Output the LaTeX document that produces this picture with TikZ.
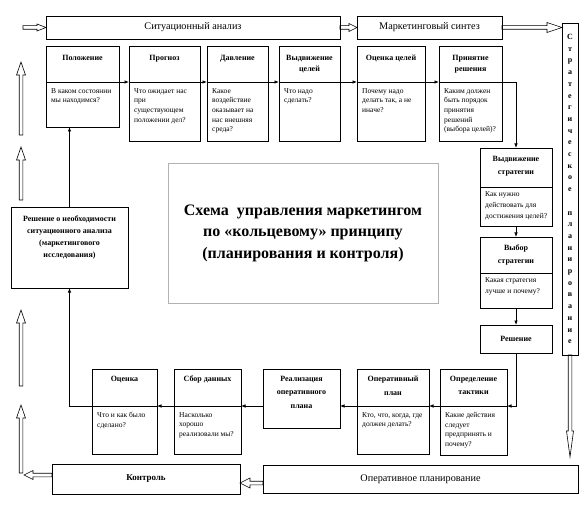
\documentclass[tikz,border=0pt]{standalone}
\usepackage{fontspec}
\setmainfont{Liberation Serif}
\usetikzlibrary{calc,arrows.meta}
\newcommand\hollowarr[4][9]{%
  \coordinate (hb) at ($(#3)!#1pt!(#2)$);
  \draw[hollow] ($(#2)!1.8pt!90:(#3)$) -- ($(hb)!1.8pt!90:(#3)$) -- ($(hb)!#4pt!90:(#3)$) -- (#3) -- ($(hb)!#4pt!-90:(#3)$) -- ($(hb)!1.8pt!-90:(#3)$) -- ($(#2)!1.8pt!-90:(#3)$) -- cycle;}
\newcommand\tbox[8]{%
  \node[box, minimum width=#4, minimum height=#5] (#1) at (#2,#3) {};
  \node[box, minimum width=#4, minimum height=#6] (#1b) at (#1.south west) {};
  \node[ttl] (#1t) at ($(#1.north)+(0,\toff)$) {#7};
  \node[txt] (#1x) at ($(#1b.north west)+(5,\xoff)$) {#8};}
\begin{document}
\begin{tikzpicture}[x=1pt,y=-1pt,
  box/.style={draw, line width=0.7pt, inner sep=0pt, outer sep=0pt, anchor=north west},
  lbox/.style={box, font=\fontsize{10.2}{12}\selectfont},
  ttl/.style={font=\fontsize{8}{11}\selectfont\bfseries, align=center, inner sep=0pt, anchor=north},
  txt/.style={font=\fontsize{7.5}{9.7}\selectfont, align=left, inner sep=0pt, anchor=north west},
  arr/.style={line width=0.7pt, -{Latex[length=4.5pt,width=3.5pt]}},
  hollow/.style={line width=0.6pt, line join=miter}]
\fill[white] (0,0) rectangle (588,510);
\useasboundingbox (0,0) rectangle (588,510);

% long boxes
\node[lbox, minimum width=294, minimum height=23] (sa) at (46,16) {Ситуационный анализ};
\node[lbox, minimum width=145, minimum height=23] (ms) at (357,16) {Маркетинговый синтез};
\node[box, minimum width=16, minimum height=332] (strat) at (562,23) {};
\node[font=\fontsize{8}{11.7}\selectfont\bfseries, align=center, inner sep=0pt] (stt) at (strat.center)
  {С\\т\\р\\а\\т\\е\\г\\и\\ч\\е\\с\\к\\о\\е\\~\\п\\л\\а\\н\\и\\р\\о\\в\\а\\н\\и\\е};
\node[lbox, minimum width=315, minimum height=28] (opl) at (263,465) {Оперативное планирование};
\node[box, font=\fontsize{9}{11}\selectfont\bfseries, minimum width=188, minimum height=30] (ktr) at (52,464) {Контроль};
\node[box, draw=gray!60, minimum width=270, minimum height=140] (cb) at (168,163) {};
\node[font=\fontsize{16}{21.5}\selectfont\bfseries, align=center, inner sep=0pt] (ct) at (cb.center)
  {Схема~ управления маркетингом\\по «кольцевому» принципу\\(планирования и контроля)};

% decision box on the left
\node[box, minimum width=117, minimum height=81] (rn) at (11,207) {};
\node[ttl, font=\fontsize{8}{12}\selectfont\bfseries] (rnt) at ($(rn.north)+(0,9)$)
  {Решение о необходимости\\ситуационного анализа\\(маркетингового\\исследования)};

% top row
\def\toff{9}\def\xoff{6}
\tbox{pol}{46}{46}{73}{36}{45}{Положение}{В каком состоянии\\мы находимся?}
\tbox{prog}{129}{46}{71}{36}{59}{Прогноз}{Что ожидает нас\\при\\существующем\\положении дел?}
\tbox{dav}{207}{46}{61}{36}{59}{Давление}{Какое\\воздействие\\оказывает на\\нас внешняя\\среда?}
\tbox{vyd}{279}{46}{61}{36}{59}{Выдвижение\\целей}{Что надо\\сделать?}
\tbox{ots}{357}{46}{68}{36}{59}{Оценка целей}{Почему надо\\делать так, а не\\иначе?}
\tbox{prin}{439}{46}{63}{36}{59}{Принятие\\решения}{Каким должен\\быть порядок\\принятия\\решений\\(выбора целей)?}

% right column
\def\toff{8}\def\xoff{4}
\tikzset{ttl/.style={font=\fontsize{8}{13}\selectfont\bfseries, align=center, inner sep=0pt, anchor=north},
  txt/.style={font=\fontsize{7.5}{11}\selectfont, align=left, inner sep=0pt, anchor=north west}}
\tbox{vs}{480}{148}{72}{39}{39}{Выдвижение\\стратегии}{Как нужно\\действовать для\\достижения целей?}
\tbox{vb}{480}{237}{72}{36}{35}{Выбор\\стратегии}{Какая стратегия\\лучше и почему?}
\node[box, font=\fontsize{8}{10}\selectfont\bfseries, minimum width=72, minimum height=28] (resh) at (480,325) {Решение};

% bottom row
\def\toff{7}\def\xoff{6}
\tikzset{ttl/.style={font=\fontsize{8}{13.5}\selectfont\bfseries, align=center, inner sep=0pt, anchor=north},
  txt/.style={font=\fontsize{7.5}{9.7}\selectfont, align=left, inner sep=0pt, anchor=north west}}
\tbox{ot}{440}{369}{67}{37}{49}{Определение\\тактики}{Какие действия\\следует\\предпринять и\\почему?}
\tbox{op}{357}{369}{72}{37}{48}{Оперативный\\план}{Кто, что, когда, где\\должен делать?}
\node[box, minimum width=77, minimum height=59] (real) at (263,369) {};
\node[ttl] (realt) at ($(real.north)+(0,\toff)$) {Реализация\\оперативного\\плана};
\tbox{sbor}{174}{369}{67}{37}{48}{Сбор данных}{Насколько\\хорошо\\реализовали мы?}
\tbox{ocn}{92}{369}{65}{37}{48}{Оценка}{Что и как было\\сделано?}

% thin arrows
\draw[arr] (pol.south east) -- (prog.south west);
\draw[arr] (prog.south east) -- (dav.south west);
\draw[arr] (dav.south east) -- (vyd.south west);
\draw[arr] (vyd.south east) -- (ots.south west);
\draw[arr] (ots.south east) -- (prin.south west);
\draw[arr] (prin.south east) -| (vs.north);
\draw[arr] (vsb.south) -- (vb.north);
\draw[arr] (vbb.south) -- (resh.north);
\draw[arr] (resh.south) |- (ot.south east);
\draw[arr] (ot.south west) -- (op.south east);
\draw[arr] (op.south west) -- (op.south west -| real.east);
\draw[arr] (real.west |- op.south west) -- (sbor.south east);
\draw[arr] (sbor.south west) -- (ocn.south east);
\draw[arr] (ocn.south west) -| (rn.south);
\draw[arr] (rn.north) -- (rn.north |- polb.south);

% hollow arrows
\hollowarr[8]{sa.east}{ms.west}{4}
\coordinate (c2) at (ms.east -| strat.west);
\hollowarr[15]{ms.east}{c2}{5}
\coordinate (c3) at ($(strat.south |- opl.north)+(0,-8)$);
\hollowarr[26]{strat.south}{c3}{3.5}
\coordinate (c4a) at ($(opl.west)+(0,4)$);
\coordinate (c4b) at (c4a -| ktr.east);
\hollowarr[10]{c4a}{c4b}{5}
\coordinate (c5a) at ($(ktr.west)+(0,-4)$);
\coordinate (c5b) at ($(c5a)+(-28,0)$);
\hollowarr[9]{c5a}{c5b}{4.5}
\coordinate (u1a) at (21,473); \coordinate (u1b) at (21,405);
\coordinate (u2a) at (21,386); \coordinate (u2b) at (21,310);
\coordinate (u3a) at (21,200); \coordinate (u3b) at (21,147);
\coordinate (u4a) at (21,135); \coordinate (u4b) at (21,62);
\hollowarr[13]{u1a}{u1b}{4.5}
\hollowarr[13]{u2a}{u2b}{4.5}
\hollowarr[13]{u3a}{u3b}{4.5}
\hollowarr[13]{u4a}{u4b}{4.5}
\coordinate (c10) at ($(sa.west)+(-23,0)$);
\hollowarr[9]{c10}{sa.west}{3.5}
\end{tikzpicture}
\end{document}
